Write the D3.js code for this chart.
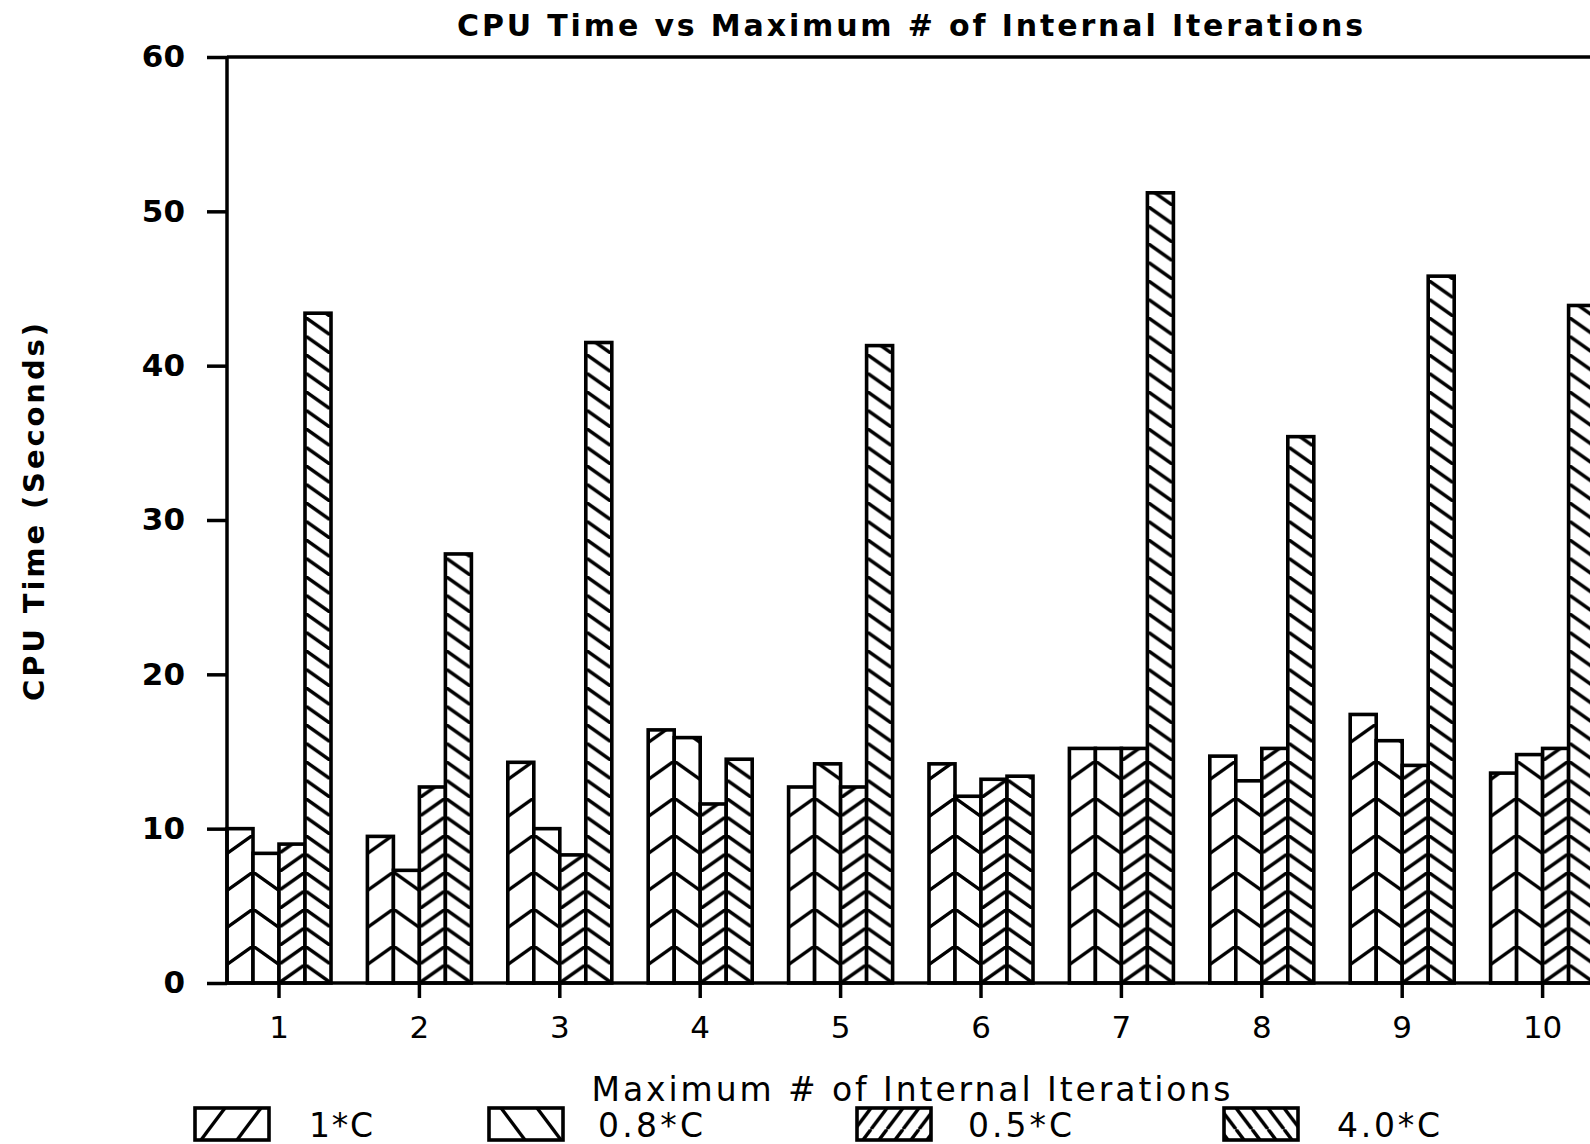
<!DOCTYPE html>
<html>
<head>
<meta charset="utf-8">
<script src="https://cdn.jsdelivr.net/npm/d3@7"></script>
<style>
  body { margin: 0; background: #fff; }
  svg { display: block; }
  text { font-family: "DejaVu Sans", sans-serif; fill: #000; }
</style>
</head>
<body>
<div id="chart"></div>
<script>
// data
const categories = ["1", "2", "3", "4", "5", "6", "7", "8", "9", "10"];
const seriesNames = ["1*C", "0.8*C", "0.5*C", "4.0*C"];
const c10 = [10.0, 9.5, 14.3, 16.4, 12.7, 14.2, 15.2, 14.7, 17.4, 13.6];
const c08 = [8.4, 7.3, 10.0, 15.9, 14.2, 12.1, 15.2, 13.1, 15.7, 14.8];
const c05 = [9.0, 12.7, 8.3, 11.6, 12.7, 13.2, 15.2, 15.2, 14.1, 15.2];
const c40 = [43.4, 27.8, 41.5, 14.5, 41.3, 13.4, 51.2, 35.4, 45.8, 43.9];
const yTicks = [0, 10, 20, 30, 40, 50, 60];

const seriesValues = [c10, c08, c05, c40];

// hatch style per series: direction + vertical period
const hatch = [
    { dir: "/", period: 37 },
    { dir: "\\", period: 37 },
    { dir: "/", period: 18.5 },
    { dir: "\\", period: 18.5 }
];

const width = 1590, height = 1144;
const plotLeft = 227, plotTop = 57, plotBottom = 983;

const svg = d3.select("#chart").append("svg")
    .attr("width", width)
    .attr("height", height);

const defs = svg.append("defs");

// scales
const step = 140.4;
const barW = 26;
const padIn = (step - 4 * barW) / step;
const x0 = d3.scaleBand()
    .domain(categories)
    .range([plotLeft, plotLeft + step * (categories.length - padIn)])
    .paddingInner(padIn)
    .paddingOuter(0);
const x1 = d3.scaleBand()
    .domain(seriesNames)
    .range([0, x0.bandwidth()]);
const y = d3.scaleLinear().domain([0, 60]).range([plotBottom, plotTop]);

// hatch pattern; lines "/" are anchored on the right edge, "\" on the left,
// so neighbouring bars meet in chevrons like the plotter output
function makePattern(id, dir, w, h, ax, ay, sw) {
    const p = defs.append("pattern")
        .attr("id", id)
        .attr("patternUnits", "userSpaceOnUse")
        .attr("x", ax).attr("y", ay)
        .attr("width", w).attr("height", h);
    p.append("rect").attr("width", w).attr("height", h).attr("fill", "#fff");
    const segs = dir === "/"
        ? [[-w, h, 0, 0], [0, h, w, 0], [w, h, 2 * w, 0]]
        : [[-w, 0, 0, h], [0, 0, w, h], [w, 0, 2 * w, h]];
    p.selectAll("line").data(segs).enter().append("line")
        .attr("x1", d => d[0]).attr("y1", d => d[1])
        .attr("x2", d => d[2]).attr("y2", d => d[3])
        .attr("stroke", "#000")
        .attr("stroke-width", sw);
}

const slope = 18.5 / barW;

// bars
const bars = [];
categories.forEach((c, gi) => {
    seriesNames.forEach((s, si) => {
        bars.push({ cat: c, gi: gi, si: si, value: seriesValues[si][gi] });
    });
});

bars.forEach(d => {
    const h = hatch[d.si];
    const bx = x0(d.cat) + x1(seriesNames[d.si]);
    const ax = h.dir === "/" ? bx + x1.bandwidth() : bx;
    makePattern(`pat-${d.gi}-${d.si}`, h.dir, h.period / slope, h.period, ax, plotBottom, 3.4);
});

svg.append("g").selectAll("rect")
    .data(bars)
    .enter()
    .append("rect")
    .attr("x", d => x0(d.cat) + x1(seriesNames[d.si]))
    .attr("y", d => y(d.value))
    .attr("width", x1.bandwidth())
    .attr("height", d => y(0) - y(d.value))
    .attr("fill", d => `url(#pat-${d.gi}-${d.si})`)
    .attr("stroke", "#000")
    .attr("stroke-width", 3.6);

// y axis
const yAxis = svg.append("g")
    .attr("transform", `translate(${plotLeft},0)`)
    .call(d3.axisLeft(y).tickValues(yTicks).tickSize(20).tickPadding(22));
yAxis.select(".domain").remove();
yAxis.selectAll("line").attr("stroke", "#000").attr("stroke-width", 3.5);
yAxis.selectAll("text")
    .style("font-family", "'DejaVu Sans', sans-serif")
    .style("font-size", "31px")
    .style("font-weight", "bold");

// axis line and frame
svg.append("line")
    .attr("x1", plotLeft).attr("x2", plotLeft)
    .attr("y1", plotTop).attr("y2", plotBottom)
    .attr("stroke", "#000").attr("stroke-width", 3.5);
svg.append("line")
    .attr("x1", plotLeft).attr("x2", width)
    .attr("y1", plotTop).attr("y2", plotTop)
    .attr("stroke", "#000").attr("stroke-width", 3.5);
svg.append("line")
    .attr("x1", plotLeft).attr("x2", width)
    .attr("y1", plotBottom).attr("y2", plotBottom)
    .attr("stroke", "#000").attr("stroke-width", 3.5);

// x axis
const xAxis = svg.append("g")
    .attr("transform", `translate(0,${plotBottom})`)
    .call(d3.axisBottom(x0).tickSize(15).tickPadding(18));
xAxis.select(".domain").remove();
xAxis.selectAll("line").attr("stroke", "#000").attr("stroke-width", 3.5);
xAxis.selectAll("text")
    .style("font-family", "'DejaVu Sans', sans-serif")
    .style("font-size", "31px");

// titles
svg.append("text")
    .attr("x", 910).attr("y", 36)
    .attr("text-anchor", "middle")
    .attr("textLength", 906)
    .attr("lengthAdjust", "spacing")
    .style("font-size", "30px")
    .style("font-weight", "bold")
    .text("CPU Time vs Maximum # of Internal Iterations");

svg.append("text")
    .attr("transform", "translate(44,512) rotate(-90)")
    .attr("text-anchor", "middle")
    .attr("textLength", 378)
    .attr("lengthAdjust", "spacing")
    .style("font-size", "29px")
    .style("font-weight", "bold")
    .text("CPU Time (Seconds)");

svg.append("text")
    .attr("x", 911).attr("y", 1101)
    .attr("text-anchor", "middle")
    .attr("textLength", 639)
    .attr("lengthAdjust", "spacing")
    .style("font-size", "33px")
    .text("Maximum # of Internal Iterations");

// legend
const legendX = [195, 489, 857, 1224];
const legendTextX = [309, 598, 968, 1337];
const legendTextW = [64, 105, 104, 103];
const boxW = 74, boxH = 32, boxY = 1108;

seriesNames.forEach((s, i) => {
    const h = hatch[i];
    const gap = h.period === 37 ? 36 : 16;
    makePattern(`leg-${i}`, h.dir, gap, gap * 1.33, legendX[i] + (h.dir === "/" ? 30 : 12), boxY, 3.4);
});

const legend = svg.append("g");
legend.selectAll("rect")
    .data(seriesNames)
    .enter()
    .append("rect")
    .attr("x", (d, i) => legendX[i])
    .attr("y", boxY)
    .attr("width", boxW)
    .attr("height", boxH)
    .attr("fill", (d, i) => `url(#leg-${i})`)
    .attr("stroke", "#000")
    .attr("stroke-width", 3.6);

legend.selectAll("text")
    .data(seriesNames)
    .enter()
    .append("text")
    .attr("x", (d, i) => legendTextX[i])
    .attr("y", 1137)
    .attr("textLength", (d, i) => legendTextW[i])
    .attr("lengthAdjust", "spacing")
    .style("font-size", "33px")
    .text(d => d);
</script>
</body>
</html>
